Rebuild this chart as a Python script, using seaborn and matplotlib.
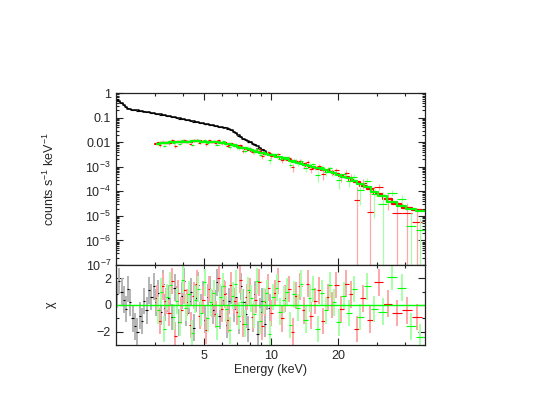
import numpy as np
import matplotlib
matplotlib.use('Agg')
import matplotlib.pyplot as plt
import seaborn as sns
from matplotlib.ticker import FixedLocator, FuncFormatter, LogLocator, NullFormatter, MultipleLocator

# Black spectrum (low energy instrument): bin centres (keV), model (counts/s/keV),
# chi residuals and fractional errors
black_e = [2.02, 2.07, 2.12, 2.17, 2.22, 2.27, 2.32, 2.38, 2.44, 2.50,
           2.56, 2.62, 2.68, 2.75, 2.82, 2.89, 2.96, 3.03, 3.10, 3.18,
           3.26, 3.34, 3.42, 3.50, 3.59, 3.68, 3.77, 3.86, 3.96, 4.06,
           4.16, 4.26, 4.37, 4.48, 4.59, 4.70, 4.82, 4.94, 5.06, 5.19,
           5.32, 5.45, 5.58, 5.72, 5.86, 6.01, 6.16, 6.31, 6.47, 6.63,
           6.80, 6.97, 7.14, 7.32, 7.50, 7.69, 7.88, 8.08, 8.28, 8.49,
           8.70, 8.92, 9.14, 9.37, 9.60, 9.84]
black_model = [0.55, 0.48, 0.40, 0.33, 0.27, 0.235, 0.225, 0.215, 0.207, 0.200,
               0.193, 0.186, 0.179, 0.172, 0.166, 0.160, 0.154, 0.148, 0.142, 0.136,
               0.130, 0.124, 0.118, 0.113, 0.108, 0.103, 0.098, 0.094, 0.090, 0.086,
               0.082, 0.078, 0.075, 0.071, 0.068, 0.065, 0.062, 0.059, 0.056, 0.053,
               0.051, 0.049, 0.047, 0.045, 0.043, 0.041, 0.039, 0.037, 0.034, 0.031,
               0.027, 0.023, 0.019, 0.016, 0.014, 0.0125, 0.011, 0.0098, 0.0088, 0.0078,
               0.0068, 0.0058, 0.0050, 0.0043, 0.0037, 0.0032]
black_chi = [0.8, 1.8, 1.0, 0.4, -0.3, 1.2, 0.2, -1.0, -1.6, -2.0,
             -0.8, -1.2, 0.3, -0.4, 1.1, 0.6, 1.4, 0.2, 0.9, -0.5,
             1.6, -0.2, 0.5, 0.9, -0.9, 1.3, 0.4, -1.3, 0.7, 1.8,
             -0.6, 0.3, 1.0, -1.7, 0.5, 1.5, -0.2, 0.8, -1.1, 0.6,
             1.2, -0.4, 0.1, 1.7, -0.8, 0.4, 0.9, -1.5, 0.3, 1.1,
             -0.3, 0.6, -1.2, 1.4, 0.2, -0.7, -1.8, 0.5, -1.0, 0.8,
             -2.2, -0.5, 0.3, -1.4, 0.6, -0.2]
black_relerr = [0.015, 0.015, 0.015, 0.016, 0.016, 0.016, 0.017, 0.017, 0.017, 0.018,
                0.018, 0.018, 0.019, 0.019, 0.019, 0.020, 0.020, 0.020, 0.021, 0.021,
                0.021, 0.022, 0.022, 0.022, 0.023, 0.023, 0.023, 0.024, 0.024, 0.024,
                0.025, 0.025, 0.025, 0.026, 0.026, 0.026, 0.027, 0.027, 0.027, 0.028,
                0.028, 0.028, 0.029, 0.029, 0.030, 0.030, 0.031, 0.031, 0.032, 0.033,
                0.035, 0.037, 0.040, 0.043, 0.046, 0.048, 0.050, 0.052, 0.055, 0.058,
                0.061, 0.065, 0.070, 0.075, 0.080, 0.085]

# Red spectrum
red_e = [3.05, 3.15, 3.25, 3.36, 3.47, 3.58, 3.70, 3.82, 3.94, 4.07,
         4.20, 4.34, 4.48, 4.63, 4.78, 4.94, 5.10, 5.27, 5.44, 5.62,
         5.80, 5.99, 6.19, 6.39, 6.60, 6.82, 7.04, 7.27, 7.51, 7.76,
         8.01, 8.27, 8.54, 8.82, 9.11, 9.41, 9.72, 10.04, 10.4, 10.8,
         11.2, 11.6, 12.0, 12.5, 13.0, 13.5, 14.0, 14.6, 15.2, 15.8,
         16.5, 17.2, 18.0, 18.8, 19.7, 20.7, 21.8, 23.0, 24.4, 26.0,
         28.0, 30.5, 33.5, 37.0, 41.0, 45.5]
red_model = [0.0087, 0.0090, 0.0092, 0.0095, 0.0097, 0.0099, 0.0101, 0.0102, 0.0104, 0.0105,
             0.0106, 0.0107, 0.0108, 0.0108, 0.0108, 0.0107, 0.0106, 0.0105, 0.0103, 0.0101,
             0.0098, 0.0095, 0.0091, 0.0086, 0.0080, 0.0074, 0.0068, 0.0063, 0.0058, 0.0054,
             0.0050, 0.0046, 0.0043, 0.0040, 0.0037, 0.0034, 0.0032, 0.0030, 0.0027, 0.0025,
             0.0023, 0.0021, 0.0019, 0.0017, 0.0015, 0.00138, 0.00125, 0.00112, 0.00101, 0.00091,
             0.00082, 0.00075, 0.00067, 0.00060, 0.00052, 0.00044, 0.00037, 0.00030, 0.00023, 0.00017,
             0.00012, 0.000078, 0.000048, 0.000030, 0.000021, 0.000017]
red_chi = [0.5, -1.2, 1.4, 0.3, -0.6, 1.8, -2.3, 0.9, -0.4, 1.1,
           0.2, -1.5, 0.7, 1.6, -0.8, 0.4, -1.9, 1.2, 0.1, -0.7,
           2.0, -0.3, 0.8, -1.1, 1.5, 0.3, -0.5, 1.9, -1.4, 0.6,
           1.0, -0.9, 0.4, 1.7, -1.6, 0.2, 1.3, -0.6, 0.9, 1.8,
           -1.0, 0.5, 1.2, -2.0, 0.7, 1.4, -0.4, 1.6, -0.8, 0.3,
           1.1, -1.2, 0.6, 0.0, 1.5, -0.3, 1.6, 0.8, -1.8, 0.5,
           -1.1, 1.7, 0.1, -0.6, -0.4, -0.9]
red_relerr = [0.12, 0.12, 0.12, 0.12, 0.12, 0.12, 0.12, 0.12, 0.12, 0.12,
              0.12, 0.12, 0.12, 0.12, 0.12, 0.12, 0.12, 0.12, 0.12, 0.12,
              0.12, 0.13, 0.13, 0.13, 0.13, 0.14, 0.14, 0.14, 0.15, 0.15,
              0.15, 0.16, 0.16, 0.16, 0.17, 0.17, 0.18, 0.18, 0.19, 0.19,
              0.20, 0.20, 0.21, 0.21, 0.22, 0.22, 0.23, 0.24, 0.25, 0.26,
              0.27, 0.28, 0.29, 0.30, 0.32, 0.34, 0.36, 0.40, 0.45, 0.55,
              0.80, 0.60, 0.70, 0.95, 0.90, 0.75]

# Green spectrum
green_e = [3.10, 3.20, 3.30, 3.41, 3.52, 3.64, 3.76, 3.88, 4.00, 4.13,
           4.27, 4.41, 4.55, 4.70, 4.86, 5.02, 5.18, 5.35, 5.53, 5.71,
           5.90, 6.09, 6.29, 6.50, 6.71, 6.93, 7.15, 7.39, 7.63, 7.88,
           8.14, 8.40, 8.68, 8.96, 9.26, 9.56, 9.88, 10.2, 10.6, 11.0,
           11.4, 11.8, 12.2, 12.7, 13.2, 13.7, 14.3, 14.9, 15.5, 16.2,
           16.9, 17.6, 18.4, 19.2, 20.2, 21.3, 22.4, 23.7, 25.2, 27.0,
           29.2, 31.8, 35.0, 38.7, 42.8, 47.0]
green_model = [0.0088, 0.0091, 0.0093, 0.0096, 0.0098, 0.0100, 0.0102, 0.0103, 0.0105, 0.0106,
               0.0107, 0.0108, 0.0108, 0.0108, 0.0107, 0.0107, 0.0106, 0.0104, 0.0102, 0.0100,
               0.0097, 0.0093, 0.0089, 0.0082, 0.0077, 0.0071, 0.0066, 0.0060, 0.0056, 0.0052,
               0.0048, 0.0045, 0.0041, 0.0038, 0.0035, 0.0033, 0.0031, 0.0029, 0.0026, 0.0024,
               0.0022, 0.0020, 0.0018, 0.0016, 0.00145, 0.00132, 0.00118, 0.00106, 0.00096, 0.00086,
               0.00078, 0.00071, 0.00063, 0.00056, 0.00048, 0.00040, 0.00034, 0.00027, 0.00020, 0.000145,
               0.000095, 0.000062, 0.000038, 0.000025, 0.000019, 0.000016]
green_chi = [-0.4, 1.0, -1.8, 0.6, 1.5, -0.9, 0.3, -1.3, 1.9, -0.2,
             0.8, -2.1, 0.4, 1.2, -0.6, 1.7, -1.0, 0.2, 0.9, -1.6,
             0.6, 1.4, -0.3, -1.9, 0.7, 1.6, -0.8, 0.2, -1.4, 1.1,
             0.5, -0.7, 1.8, -1.2, 0.3, 0.9, -2.2, 0.6, 1.3, -0.5,
             0.4, 1.0, -1.5, 0.8, -0.2, 1.6, -1.1, 0.5, 1.2, -1.8,
             0.9, -0.4, 1.5, 0.2, -1.3, 0.7, -0.6, 1.2, -0.9, 1.4,
             -0.3, -0.5, 2.1, 1.3, -1.6, -2.4]
green_relerr = [0.12, 0.12, 0.12, 0.12, 0.12, 0.12, 0.12, 0.12, 0.12, 0.12,
                0.12, 0.12, 0.12, 0.12, 0.12, 0.12, 0.12, 0.12, 0.12, 0.12,
                0.12, 0.13, 0.13, 0.13, 0.13, 0.14, 0.14, 0.14, 0.15, 0.15,
                0.15, 0.16, 0.16, 0.16, 0.17, 0.17, 0.18, 0.18, 0.19, 0.19,
                0.20, 0.20, 0.21, 0.21, 0.22, 0.22, 0.23, 0.24, 0.25, 0.26,
                0.27, 0.28, 0.29, 0.30, 0.32, 0.34, 0.36, 0.40, 0.45, 0.55,
                0.70, 1.00, 0.60, 0.80, 0.50, 0.35]


def bin_edges(e):
    # geometric midpoints between bin centres
    e = np.asarray(e)
    mid = np.sqrt(e[1:] * e[:-1])
    return np.concatenate([[e[0] ** 2 / mid[0]], mid, [e[-1] ** 2 / mid[-1]]])


sns.set_style('ticks')
plt.rcParams['font.family'] = ['Liberation Sans', 'DejaVu Sans']
plt.rcParams['mathtext.default'] = 'regular'
plt.rcParams['font.size'] = 9

fig = plt.figure(figsize=(5.39, 4.16), dpi=100)
ax1 = fig.add_axes([0.215, 0.363, 0.574, 0.413])
ax2 = fig.add_axes([0.215, 0.171, 0.574, 0.192], sharex=ax1)
ax1.set_xscale('log')
ax1.set_yscale('log')

sets = [
    (black_e, black_model, black_chi, black_relerr, '#000000', '#b4b4b4', 1.1),
    (red_e, red_model, red_chi, red_relerr, '#ff0000', '#ffa8a8', 1.6),
    (green_e, green_model, green_chi, green_relerr, '#00ff00', '#a8ffa8', 1.6),
]

for e, mod, chi, rel, col, light, lw in sets:
    e = np.array(e)
    mod = np.array(mod)
    chi = np.array(chi)
    rel = np.array(rel)
    edges = bin_edges(e)
    xerr = [e - edges[:-1], edges[1:] - e]
    sig = rel * mod
    dat = mod + chi * sig
    ylo = np.minimum(sig, dat - 1e-9)

    # spectrum panel
    ax1.errorbar(e, dat, yerr=[ylo, sig], fmt='none', ecolor=light, elinewidth=0.9)
    ax1.errorbar(e, dat, xerr=xerr, fmt='none', ecolor=col, elinewidth=0.8)
    sns.lineplot(x=edges, y=np.append(mod, mod[-1]), drawstyle='steps-post',
                 color=col, lw=lw, ax=ax1)

    # residual panel (chi errors are +-1)
    ax2.errorbar(e, chi, yerr=1, fmt='none', ecolor=light, elinewidth=1.4)
    ax2.errorbar(e, chi, xerr=xerr, fmt='none', ecolor=col, elinewidth=0.8)

ax2.axhline(0, color='#00ff00', lw=1)

ax1.set_xlim(2.0, 49.5)
ax1.set_ylim(1e-7, 1)
ax2.set_ylim(-3, 3)


def yfmt(v, pos):
    if v >= 0.009:
        return f'{v:g}'
    return '$10^{%d}$' % int(round(np.log10(v)))


ax1.yaxis.set_major_locator(LogLocator(base=10, numticks=20))
ax1.yaxis.set_minor_locator(LogLocator(base=10, subs=np.arange(2, 10), numticks=20))
ax1.yaxis.set_major_formatter(FuncFormatter(yfmt))
ax1.yaxis.set_minor_formatter(NullFormatter())

ax2.xaxis.set_major_locator(FixedLocator([5, 10, 20]))
ax2.xaxis.set_minor_locator(FixedLocator([3, 4, 6, 7, 8, 9, 30, 40]))
ax2.xaxis.set_major_formatter(FuncFormatter(lambda v, p: f'{v:g}'))
ax2.xaxis.set_minor_formatter(NullFormatter())
ax2.yaxis.set_major_locator(FixedLocator([-2, 0, 2]))
ax2.yaxis.set_minor_locator(MultipleLocator(1))

for ax in (ax1, ax2):
    ax.tick_params(which='both', direction='in', top=True, right=True,
                   width=0.8, color='#222222', labelsize=9)
    ax.tick_params(which='major', length=5)
    ax.tick_params(which='minor', length=2.5)
    for s in ax.spines.values():
        s.set_linewidth(0.9)
        s.set_color('#222222')
ax1.tick_params(labelbottom=False)

ax1.set_ylabel('counts s$^{-1}$ keV$^{-1}$', fontsize=9)
ax1.yaxis.set_label_coords(-0.19, 0.5)
ax2.set_ylabel('χ', fontsize=9)
ax2.yaxis.set_label_coords(-0.19, 0.5)
ax2.set_xlabel('Energy (keV)', fontsize=9)
ax2.xaxis.set_label_coords(0.5, -0.24)

fig.savefig('out.png', dpi=100)
